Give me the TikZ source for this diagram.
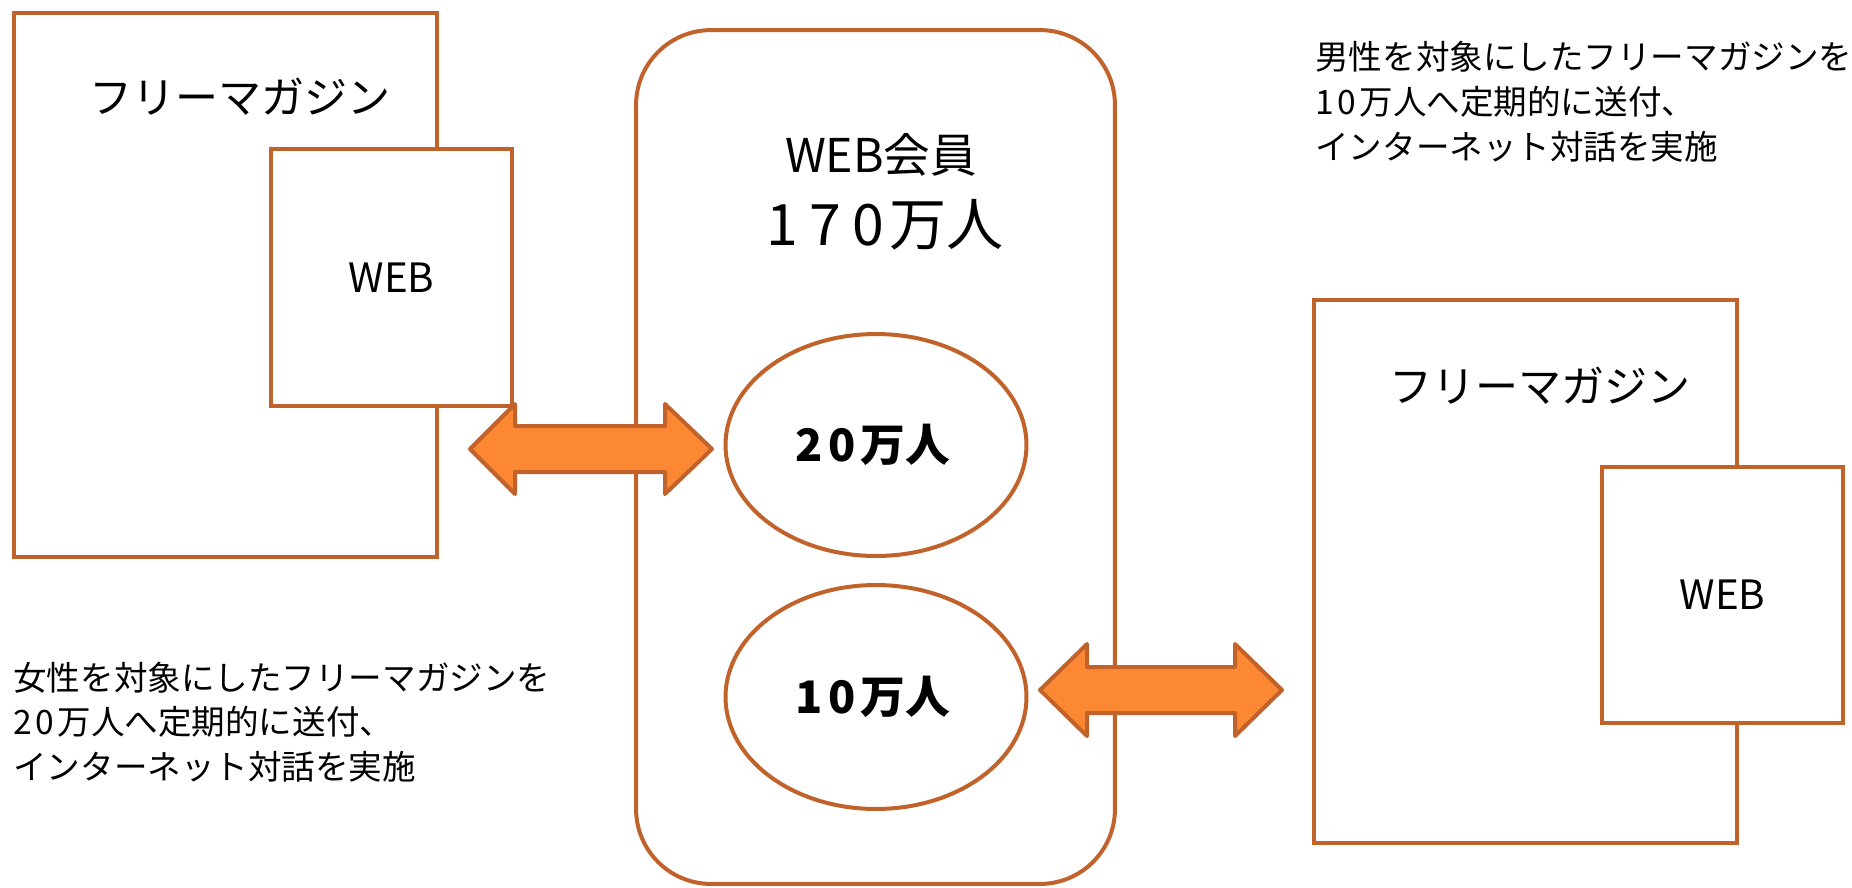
\documentclass[tikz,border=0pt]{standalone}
\usepackage{fontspec}
\setmainfont{Noto Sans CJK JP}
\usetikzlibrary{shapes.geometric,calc}
\definecolor{edge}{RGB}{192,98,42}
\definecolor{arrowfill}{RGB}{253,136,52}
\begin{document}
\begin{tikzpicture}[x=0.02cm,y=-0.02cm,
  panel/.style={draw=edge,line width=0.08cm,fill=white,inner sep=0pt,outer sep=0pt},
  boxsq/.style={panel,rectangle},
  roundbox/.style={panel,rectangle,rounded corners=1.5cm},
  oval/.style={panel,ellipse},
  blockarrow/.style={draw=edge,line width=0.08cm,fill=arrowfill,line join=round},
  magtext/.style={inner sep=0pt,font=\fontsize{24.5}{28}\selectfont},
  webtext/.style={inner sep=0pt,font=\fontsize{23}{26}\selectfont},
  desc/.style={inner sep=0pt,align=left,font=\fontsize{19.1}{25.5}\selectfont},
  count/.style={inner sep=0pt,font=\fontsize{25.5}{28}\selectfont\bfseries}]
\useasboundingbox (0,0) rectangle (1852,887);

% central members panel
\node[roundbox,minimum width=9.58cm,minimum height=17.08cm] (members) at (875.5,457) {};
\node[inner sep=0pt,font=\fontsize{26.5}{30}\selectfont] (webkai) at (881,155) {WEB会員};
\node[inner sep=0pt,font=\fontsize{32.5}{36}\selectfont] (total) at (885,225) {1\kern6.5pt7\kern6.5pt0\kern3pt万人};
\node[oval,minimum width=6.02cm,minimum height=4.44cm] (e20) at (876,445) {};
\node[count] (t20) at (873,445) {2\kern3pt0\kern3pt万人};
\node[oval,minimum width=6.02cm,minimum height=4.48cm] (e10) at (876,697) {};
\node[count] (t10) at (873,697) {1\kern3pt0\kern3pt万人};

% left magazine
\node[boxsq,minimum width=8.46cm,minimum height=10.88cm] (lmag) at (225.5,285) {};
\node[magtext] (lmagt) at (240,97) {フリーマガジン};
\node[boxsq,minimum width=4.82cm,minimum height=5.14cm] (lweb) at (391.5,277.5) {};
\node[webtext] (lwebt) at (lweb.center) {WEB};

% right magazine
\node[boxsq,minimum width=8.46cm,minimum height=10.86cm] (rmag) at (1525.5,571.5) {};
\node[magtext] (rmagt) at (1540,386) {フリーマガジン};
\node[boxsq,minimum width=4.82cm,minimum height=5.12cm] (rweb) at (1722.5,595) {};
\node[webtext] (rwebt) at (rweb.center) {WEB};

% descriptions
\node[desc,anchor=west] (ldesc) at (13,722) {女性を対象にしたフリーマガジンを\\2\kern2pt0\kern2pt万人へ定期的に送付、\\インターネット対話を実施};
\node[desc,anchor=west] (rdesc) at (1315,102) {男性を対象にしたフリーマガジンを\\1\kern2pt0\kern2pt万人へ定期的に送付、\\インターネット対話を実施};

% block arrows
\coordinate (la) at (470,449);
\coordinate (lb) at (712,449);
\coordinate (ra) at (1040,690);
\coordinate (rb) at (1282,690);
\draw[blockarrow] (la) -- ($(la)+(45,-45)$) -- ($(la)+(45,-23)$) -- ($(lb)+(-47,-23)$) -- ($(lb)+(-47,-45)$) -- (lb)
  -- ($(lb)+(-47,45)$) -- ($(lb)+(-47,23)$) -- ($(la)+(45,23)$) -- ($(la)+(45,45)$) -- cycle;
\draw[blockarrow] (ra) -- ($(ra)+(47,-46)$) -- ($(ra)+(47,-23)$) -- ($(rb)+(-47,-23)$) -- ($(rb)+(-47,-46)$) -- (rb)
  -- ($(rb)+(-47,46)$) -- ($(rb)+(-47,23)$) -- ($(ra)+(47,23)$) -- ($(ra)+(47,46)$) -- cycle;
\end{tikzpicture}
\end{document}
